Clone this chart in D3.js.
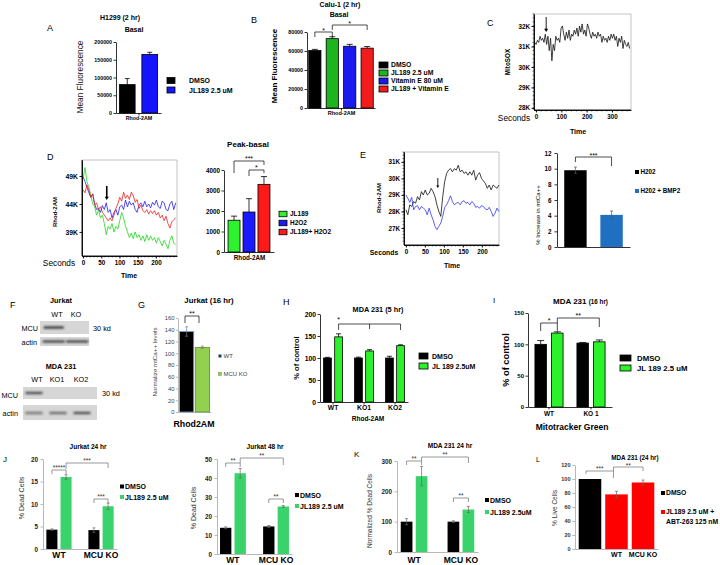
<!DOCTYPE html>
<html><head><meta charset="utf-8">
<script src="https://cdn.jsdelivr.net/npm/d3@7/dist/d3.min.js"></script>
<style>html,body{margin:0;padding:0;background:#fff}svg{display:block}</style>
</head><body>
<svg id="fig" width="720" height="565" viewBox="0 0 720 565"></svg>
<script>
// ================= DATA =================
// A
const aCategories = ["DMSO", "JL189 2.5 uM"];
const aMeans = [80000, 165000];
const aErrors = [17000, 6000];
const aTicks = [0, 50000, 100000, 150000, 200000];
// B
const bCategories = ["DMSO", "JL189 2.5 uM", "Vitamin E 80 uM", "JL189 + Vitamin E"];
const bMeans = [60500, 73000, 65000, 63000];
const bErrors = [1200, 2000, 2000, 1700];
const bTicks = [0, 20000, 40000, 60000, 80000];
// C (MitoSOX trace, thousands)
const cStart = -5, cStep = 5.2;
const cMitoSOX = [31.2,31.1,31.3,31.2,31.5,31.3,31.4,31.2,31.6,31.1,
  31.5,30.8,31.4,30.3,31.1,30.8,31.5,31.3,31.4,31.2,
  31.9,32.0,31.6,31.3,31.7,31.4,31.8,31.3,31.6,31.5,
  31.8,31.6,31.9,31.5,32.0,31.7,32.1,31.6,31.8,31.5,
  32.1,31.9,31.6,31.4,31.7,31.5,31.6,31.4,31.7,31.5,
  31.6,31.2,31.5,31.3,31.4,31.2,31.5,31.3,31.6,31.4,
  31.6,31.3,31.5,31.0,31.4,31.2,31.5,30.9,31.3,31.1,
  31.0,31.2,30.9];
const cYTicks = [28, 29, 30, 31, 32];
const cXTicks = [0, 100, 200, 300];
const cArrowTime = 40;
// D traces (thousands)
const dStep = 5.3;
const dJL189 = [48.5,50.5,48.0,47.0,45.5,44.0,43.5,42.0,43.0,41.5,42.0,40.5,38.5,40.0,39.5,40.5,39.0,40.0,39.5,41.0,
  42.5,41.5,40.0,39.0,38.0,38.8,37.8,39.0,38.0,38.5,37.5,38.3,37.3,38.5,37.5,38.3,37.5,38.0,37.0,38.0,
  37.3,36.5,37.5,36.8,36.0,37.5,38.3,37.0,36.7];
const dH2O2 = [48.8,48.0,47.0,46.0,45.2,45.8,44.0,43.0,43.2,42.5,43.7,43.0,44.2,42.5,43.0,41.5,42.5,43.0,42.0,43.5,
  43.8,43.0,44.7,43.5,44.5,43.8,44.2,43.0,42.5,43.8,44.2,43.5,44.5,43.5,44.0,43.3,44.3,43.8,44.7,43.5,
  43.2,44.5,44.2,43.0,42.8,44.0,44.5,43.0,44.2];
const dJL189H2O2 = [46.5,46.0,47.4,46.5,45.2,45.8,43.8,44.2,43.0,43.5,42.5,42.0,41.5,41.0,41.5,41.0,42.0,43.2,44.0,45.2,
  44.5,46.1,45.0,45.6,44.8,46.1,45.5,44.3,44.8,43.2,43.8,42.8,42.5,43.0,42.2,42.8,42.3,42.8,42.0,42.5,
  41.5,42.0,41.0,41.8,40.5,39.7,40.8,41.2,41.5];
const dYTicks = [39, 44, 49];
const dXTicks = [0, 50, 100, 150, 200];
const dArrowTime = 65;
const dBarCategories = ["JL189", "H2O2", "JL189+ H2O2"];
const dBarMeans = [1550, 1950, 3300];
const dBarErrors = [200, 650, 380];
const dBarTicks = [0, 1000, 2000, 3000, 4000];
// E traces (thousands)
const eStep = 5.1;
const eH2O2Trace = [28.1,27.8,28.4,28.3,28.6,28.5,28.9,28.7,29.2,29.0,29.3,29.0,29.1,29.4,29.2,28.9,28.4,28.0,27.7,28.9,
  29.8,30.3,30.5,30.6,30.4,30.6,30.5,30.8,30.4,30.5,30.3,30.4,30.2,30.4,30.2,30.5,29.9,30.2,30.35,30.0,
  29.85,29.7,29.4,29.6,29.3,29.6,29.5,29.4,29.6];
const eBMP2Trace = [29.0,28.8,28.55,28.85,28.1,28.3,28.35,28.1,28.3,28.2,28.1,27.8,28.2,27.8,27.5,27.1,26.9,27.1,27.3,27.7,
  28.25,28.4,28.65,28.95,28.6,28.4,28.5,28.55,28.4,28.6,28.65,28.5,28.55,28.4,28.6,28.5,28.25,28.3,28.2,28.35,
  28.3,28.15,28.1,28.25,28.0,27.7,27.9,28.2,28.0];
const eYTicks = [27, 28, 29, 30, 31];
const eXTicks = [0, 50, 100, 150, 200];
const eArrowTime = 84;
const eBarCategories = ["H202", "H202 + BMP2"];
const eBarMeans = [9.8, 4.1];
const eBarErrors = [0.4, 0.5];
const eBarTicks = [0, 2, 4, 6, 8, 10, 12];
// F (blot band intensities)
const fJurkatLanes = ["WT", "KO"];
const fJurkatMCU = [1, 0];
const fJurkatActin = [0.9, 0.9];
const fMDALanes = ["WT", "KO1", "KO2"];
const fMDAMCU = [0.85, 0, 0];
const fMDAActin = [0.55, 0.65, 0.8];
// G
const gCategories = ["WT", "MCU KO"];
const gMeans = [137, 110];
const gErrors = [8, 2];
const gTicks = [0, 20, 40, 60, 80, 100, 120, 140, 160];
// H
const hGroups = ["WT", "KO1", "KO2"];
const hSeries = ["DMSO", "JL 189 2.5uM"];
const hDMSO = [100, 100, 100];
const hDMSOErr = [1.5, 2, 4];
const hJL189 = [148, 116, 128];
const hJL189Err = [7, 3, 2];
const hTicks = [0, 50, 100, 150, 200];
// I
const iGroups = ["WT", "KO 1"];
const iSeries = ["DMSO", "JL 189 2.5 uM"];
const iDMSO = [100, 102];
const iDMSOErr = [6, 1];
const iJL189 = [118, 104];
const iJL189Err = [2, 3];
const iTicks = [0, 50, 100, 150];
// J (Jurkat 24 hr / 48 hr)
const jGroups = ["WT", "MCU KO"];
const jSeries = ["DMSO", "JL189  2.5 uM"];
const j24DMSO = [4.3, 4.2], j24DMSOErr = [0.15, 0.5];
const j24JL189 = [16.0, 9.5], j24JL189Err = [0.5, 0.7];
const j24Ticks = [0, 5, 10, 15, 20];
const j48DMSO = [13.8, 14.5], j48DMSOErr = [0.5, 0.5];
const j48JL189 = [42.5, 25.0], j48JL189Err = [2.5, 0.5];
const j48Ticks = [0, 10, 20, 30, 40, 50];
// K
const kGroups = ["WT", "MCU KO"];
const kSeries = ["DMSO", "JL189 2.5uM"];
const kDMSO = [100, 100], kDMSOErr = [10, 3];
const kJL189 = [250, 140], kJL189Err = [32, 10];
const kTicks = [0, 100, 200, 300];
// L
const lCategories = ["DMSO", "WT", "MCU KO"];
const lMeans = [100, 78, 95];
const lErrors = [0, 4.5, 3.5];
const lTicks = [0, 20, 40, 60, 80, 100, 120];

// ================= HELPERS =================
const FONT = '"Liberation Sans", Arial, Helvetica, sans-serif';
const svg = d3.select("#fig");
const defs = svg.append("defs");
defs.append("filter").attr("id", "blur").attr("x", "-30%").attr("y", "-100%").attr("width", "160%").attr("height", "300%")
  .append("feGaussianBlur").attr("stdDeviation", 0.8);

function T(x, y, s, o = {}) {
  const t = svg.append("text").attr("x", x).attr("y", y).text(s)
    .style("font-family", FONT).style("font-size", (o.size || 7) + "px")
    .style("font-weight", o.bold ? "bold" : "normal")
    .attr("text-anchor", o.anchor || "start").attr("fill", o.fill || "#000");
  if (o.rot) t.attr("transform", `rotate(-90,${x},${y})`);
  return t;
}
function R(cx, cy, s, o = {}) {
  const size = o.size || 7;
  return T(cx + 0.36 * size, cy, s, Object.assign({}, o, { anchor: "middle", rot: true }));
}
function styleAxis(g, o) {
  g.attr("font-size", null).attr("font-family", null);
  g.selectAll("text").style("font-family", FONT).style("font-size", (o.size || 6) + "px")
    .style("font-weight", o.bold === false ? "normal" : "bold").attr("fill", o.fill || "#000");
  g.selectAll("path.domain, .tick line").attr("stroke", o.stroke || "#000").attr("stroke-width", o.sw || 0.8);
}
function yAxis(scale, x, ticks, o = {}) {
  const ax = d3.axisLeft(scale).tickValues(ticks).tickSizeInner(o.ts ?? 2.5).tickSizeOuter(0).tickPadding(o.pad ?? 1.5);
  if (o.fmt) ax.tickFormat(o.fmt);
  const g = svg.append("g").attr("transform", `translate(${x},0)`).call(ax);
  styleAxis(g, o);
  return g;
}
function xAxis(scale, y, ticks, o = {}) {
  const ax = d3.axisBottom(scale).tickSizeInner(o.ts ?? 2.5).tickSizeOuter(0).tickPadding(o.pad ?? 1.5);
  if (ticks) ax.tickValues(ticks);
  if (o.fmt) ax.tickFormat(o.fmt);
  const g = svg.append("g").attr("transform", `translate(0,${y})`).call(ax);
  styleAxis(g, o);
  return g;
}
function minorTicks(scale, vals, orient, pos, len) {
  const g = svg.append("g").attr("stroke", "#000").attr("stroke-width", 0.5);
  vals.forEach(v => {
    if (orient === "x") g.append("line").attr("x1", scale(v)).attr("x2", scale(v)).attr("y1", pos).attr("y2", pos + len);
    else g.append("line").attr("y1", scale(v)).attr("y2", scale(v)).attr("x1", pos).attr("x2", pos - len);
  });
}
function errBar(cx, y, v, e, o) {
  if (!e) return;
  const cw = o.cap || 2.5;
  const top = y(v + e), bot = o.both ? y(v - e) : y(v);
  let p = `M${cx},${bot}V${top}M${cx - cw},${top}H${cx + cw}`;
  if (o.both) p += `M${cx - cw},${bot}H${cx + cw}`;
  svg.append("path").attr("d", p).attr("stroke", o.ecol || "#000").attr("stroke-width", o.esw || 0.8).attr("fill", "none");
}
function simpleBars(x, y, cats, vals, errs, colors, o = {}) {
  svg.append("g").selectAll("rect").data(vals).join("rect")
    .attr("x", (d, i) => x(cats[i])).attr("y", d => y(d))
    .attr("width", x.bandwidth()).attr("height", d => y(0) - y(d))
    .attr("fill", (d, i) => colors[i])
    .attr("stroke", (d, i) => o.strokes ? o.strokes[i] : (o.stroke || "none")).attr("stroke-width", o.sw || 0.8);
  vals.forEach((v, i) => errBar(x(cats[i]) + x.bandwidth() / 2, y, v, errs[i], o));
}
function groupedBars(xo, y, groups, series, errs, colors, o = {}) {
  const xi = d3.scaleBand().domain(d3.range(series.length)).range([0, xo.bandwidth()]).paddingInner(o.inner ?? 0.3);
  series.forEach((vals, s) => {
    svg.append("g").selectAll("rect").data(vals).join("rect")
      .attr("x", (d, i) => xo(groups[i]) + xi(s)).attr("y", d => y(d))
      .attr("width", xi.bandwidth()).attr("height", d => y(0) - y(d))
      .attr("fill", colors[s]).attr("stroke", o.stroke || "none").attr("stroke-width", o.sw || 0.8);
  });
  series.forEach((vals, s) => vals.forEach((v, i) => errBar(xo(groups[i]) + xi(s) + xi.bandwidth() / 2, y, v, errs[s][i], o)));
  return (g, s) => xo(g) + xi(s) + xi.bandwidth() / 2;
}
function bracket(x1, x2, yt, y1, y2, label, o = {}) {
  svg.append("path").attr("d", `M${x1},${y1}V${yt}H${x2}V${y2}`).attr("fill", "none")
    .attr("stroke", o.stroke || "#000").attr("stroke-width", o.sw || 0.7);
  T(o.lx ?? (x1 + x2) / 2, yt + (o.ly ?? 1.5), label, { size: o.size || 7, anchor: "middle", fill: o.fill || "#000" });
}
function legend(x, ys, labels, colors, o = {}) {
  labels.forEach((l, i) => {
    svg.append("rect").attr("x", x).attr("y", ys[i] - o.h / 2).attr("width", o.w).attr("height", o.h)
      .attr("fill", colors[i]).attr("stroke", o.strokes ? o.strokes[i] : (o.stroke || "none")).attr("stroke-width", o.sw || 0.8);
    T(o.tx, ys[i] + 0.36 * o.size, l, { size: o.size, bold: o.bold, fill: o.fill || "#000" });
  });
}
function frame(x0, x1, y0, y1) {
  svg.append("path").attr("d", `M${x0},${y0}H${x1}V${y1}`).attr("fill", "none").attr("stroke", "#9a9a9a").attr("stroke-width", 0.6);
}
function trace(vals, t0, step, x, y, color, sw) {
  svg.append("path").datum(vals)
    .attr("d", d3.line().x((d, i) => x(t0 + i * step)).y(d => y(d)))
    .attr("fill", "none").attr("stroke", color).attr("stroke-width", sw).attr("stroke-linejoin", "round");
}
function arrow(x, y0, y1, sw, hw) {
  svg.append("path").attr("d", `M${x},${y0}V${y1 - hw * 1.2}`).attr("stroke", "#000").attr("stroke-width", sw);
  svg.append("path").attr("d", `M${x - hw},${y1 - hw * 1.6}L${x},${y1}L${x + hw},${y1 - hw * 1.6}Z`).attr("fill", "#000");
}

// ================= PANEL A =================
{
  const y = d3.scaleLinear().domain([0, 200000]).range([113, 42]);
  const x = d3.scaleBand().domain(aCategories).range([116, 161]).paddingInner(0.3).paddingOuter(0.15);
  const colors = ["#000000", "#1414ff"];
  simpleBars(x, y, aCategories, aMeans, aErrors, colors, { stroke: "#000", cap: 2.5 });
  yAxis(y, 116, aTicks, { size: 5.3, fmt: d3.format("d") });
  xAxis(d3.scalePoint().domain(["Rhod-2AM"]).range([116, 161]).padding(0.5), 113, null, { size: 5.3, pad: 0.5 });
  T(47, 31, "A", { size: 9 });
  T(120, 20, "H1299 (2 hr)", { size: 7, bold: true, anchor: "middle" });
  T(134, 32, "Basal", { size: 7, bold: true, anchor: "middle" });
  R(80, 77, "Mean Fluorescence", { size: 8.3, fill: "#111" });
  legend(167, [80.5, 90], aCategories, colors, { w: 8, h: 6, tx: 189, size: 7, bold: true, stroke: "#000" });
}
// ================= PANEL B =================
{
  const y = d3.scaleLinear().domain([0, 80000]).range([108, 32]);
  const x = d3.scaleBand().domain(bCategories).range([307, 375]).paddingInner(0.3).paddingOuter(0.1);
  const colors = ["#000000", "#1db51d", "#1a1aee", "#f21c1c"];
  simpleBars(x, y, bCategories, bMeans, bErrors, colors, { stroke: "#000", cap: 3 });
  yAxis(y, 307, bTicks, { size: 5.3, fmt: d3.format("d") });
  xAxis(d3.scalePoint().domain(["Rhod-2AM"]).range([307, 375]).padding(0.5), 108, null, { size: 5.5, pad: 0.5 });
  const c = i => x(bCategories[i]) + x.bandwidth() / 2;
  bracket(c(0), c(1), 32, 37, 37, "*", { size: 7, ly: 0.5 });
  bracket(c(1), c(3), 25, 30, 30, "*", { size: 7, ly: 0.5 });
  T(251, 23, "B", { size: 9 });
  T(340, 7, "Calu-1 (2 hr)", { size: 7, bold: true, anchor: "middle" });
  T(339, 16.5, "Basal", { size: 7, bold: true, anchor: "middle" });
  R(274, 66, "Mean Fluorescence", { size: 8, bold: true });
  legend(379, [65, 73, 81, 89], bCategories, colors, { w: 9, h: 6, tx: 391, size: 6.8, bold: true, stroke: "#000" });
}
// ================= PANEL C =================
{
  const x = d3.scaleLinear().domain([-8, 375]).range([534, 631]);
  const y = d3.scaleLinear().domain([27.9, 32.585]).range([110, 14]);
  frame(534, 631, 14, 110);
  trace(cMitoSOX, cStart, cStep, x, y, "#111", 0.8);
  yAxis(y, 534, cYTicks, { size: 6.3, fmt: d => d + "K", sw: 0.9 });
  minorTicks(y, d3.range(28, 32.6, 0.2), "y", 534, 1.5);
  xAxis(x, 110, cXTicks, { size: 6.3, pad: 2.5, sw: 0.9 });
  minorTicks(x, d3.range(0, 375, 20), "x", 110, 1.5);
  svg.append("path").attr("d", "M534,14V110H631").attr("fill", "none").attr("stroke", "#000").attr("stroke-width", 0.9);
  arrow(x(cArrowTime), 17, 32, 0.9, 2);
  T(487, 26, "C", { size: 9 });
  R(508, 62, "MitoSOX", { size: 6.3, bold: true });
  T(514, 120.5, "Seconds", { size: 8.3, anchor: "middle" });
  T(578, 133.5, "Time", { size: 7, bold: true, anchor: "middle" });
}
// ================= PANEL D (traces) =================
{
  const x = d3.scaleLinear().domain([-3, 258]).range([82, 177]);
  const y = d3.scaleLinear().domain([34.7, 51.86]).range([256, 160]);
  frame(82, 177, 160, 256);
  trace(dJL189, 0, dStep, x, y, "#1ed81e", 0.8);
  trace(dH2O2, 0, dStep, x, y, "#2020ee", 0.8);
  trace(dJL189H2O2, 0, dStep, x, y, "#ee2020", 0.8);
  yAxis(y, 82, dYTicks, { size: 6.8, fmt: d => d + "K", sw: 0.9 });
  xAxis(x, 256, dXTicks, { size: 6.3, pad: 2, sw: 0.9 });
  minorTicks(x, d3.range(0, 258, 10), "x", 256, 1.5);
  svg.append("path").attr("d", "M82,160V256H177").attr("fill", "none").attr("stroke", "#000").attr("stroke-width", 0.9);
  arrow(x(dArrowTime), 186, 200, 1.6, 2);
  T(47, 160, "D", { size: 9 });
  R(55, 212, "Rhod-2AM", { size: 6, bold: true });
  T(59, 265.5, "Seconds", { size: 8.3, anchor: "middle" });
  T(129, 278, "Time", { size: 7, bold: true, anchor: "middle" });
}
// ================= PANEL D (bars) =================
{
  const y = d3.scaleLinear().domain([0, 4000]).range([252, 170]);
  const x = d3.scaleBand().domain(dBarCategories).range([224, 274]).paddingInner(0.2).paddingOuter(0.27);
  const colors = ["#2ef22e", "#1a1aff", "#ff1a1a"];
  simpleBars(x, y, dBarCategories, dBarMeans, dBarErrors, colors, { stroke: "#000", cap: 3 });
  yAxis(y, 224, dBarTicks, { size: 6.3, fmt: d3.format("d") });
  xAxis(d3.scalePoint().domain(["Rhod-2AM"]).range([224, 274]).padding(0.5), 252, null, { size: 6.3, pad: 1.5 });
  const c = i => x(dBarCategories[i]) + x.bandwidth() / 2;
  bracket(c(0), c(2), 161, 173, 165, "***", { size: 7, ly: 0 });
  bracket(c(1), c(2), 170, 176, 173, "*", { size: 7, ly: 0 });
  T(248, 147, "Peak-basal", { size: 8, bold: true, anchor: "middle" });
  legend(279, [214, 223, 232], dBarCategories, colors, { w: 8, h: 5.5, tx: 290, size: 6.5, bold: true, stroke: "#000" });
}
// ================= PANEL E (traces) =================
{
  const x = d3.scaleLinear().domain([-5, 245]).range([404, 499]);
  const y = d3.scaleLinear().domain([25.97, 31.6]).range([245, 152]);
  frame(404, 499, 152, 245);
  trace(eH2O2Trace, 0, eStep, x, y, "#111", 0.8);
  trace(eBMP2Trace, 0, eStep, x, y, "#3535ee", 0.8);
  yAxis(y, 404, eYTicks, { size: 6.3, fmt: d => d + "K", sw: 0.9 });
  minorTicks(y, d3.range(26.2, 31.6, 0.2), "y", 404, 1.5);
  xAxis(x, 245, eXTicks, { size: 6.3, pad: 2.5, sw: 0.9 });
  minorTicks(x, d3.range(0, 245, 10), "x", 245, 1.5);
  svg.append("path").attr("d", "M404,152V245H499").attr("fill", "none").attr("stroke", "#000").attr("stroke-width", 0.9);
  arrow(x(eArrowTime), 178, 188, 0.9, 1.5);
  T(360, 158, "E", { size: 9 });
  R(379, 198, "Rhod-2AM", { size: 6, bold: true });
  T(384, 255, "Seconds", { size: 6.8, bold: true, anchor: "middle" });
  T(452, 268, "Time", { size: 7, bold: true, anchor: "middle" });
}
// ================= PANEL E (bars) =================
{
  const y = d3.scaleLinear().domain([0, 12]).range([247, 153]);
  const x = d3.scaleBand().domain(eBarCategories).range([557, 630]).paddingInner(0.38).paddingOuter(0.2);
  const colors = ["#000000", "#1f70c2"];
  simpleBars(x, y, eBarCategories, eBarMeans, eBarErrors, colors, { both: true, cap: 1.5, ecol: "#555", esw: 0.7 });
  yAxis(y, 557, eBarTicks, { size: 6.3, fmt: d3.format("d"), ts: 2.5, pad: 3, sw: 0.8 });
  xAxis(x, 247, null, { ts: 0, fmt: () => "", sw: 0.8 });
  const c = i => x(eBarCategories[i]) + x.bandwidth() / 2;
  bracket(c(0), c(1), 157, 162, 166, "***", { size: 7, ly: 0.5 });
  R(538, 215, "% Increase  in mtCa++", { size: 6 });
  legend(635, [172, 191], eBarCategories, colors, { w: 4, h: 4, tx: 640.5, size: 6.3, bold: true });
}
// ================= PANEL F (blots) =================
{
  function blot(lanes, vals, x0, x1, y0, y1, bandY, bandH, bw) {
    svg.append("rect").attr("x", x0).attr("y", y0).attr("width", x1 - x0).attr("height", y1 - y0).attr("fill", "#d6d6d6");
    const x = d3.scaleBand().domain(lanes).range(bw.range);
    svg.append("g").attr("filter", "url(#blur)").selectAll("rect").data(vals).join("rect")
      .attr("x", (d, i) => x(lanes[i]) + (x.bandwidth() - bw.w) / 2).attr("y", bandY - bandH / 2)
      .attr("width", bw.w).attr("height", bandH).attr("fill", "#2a2a2a").attr("opacity", d => d);
  }
  blot(fJurkatLanes, fJurkatMCU, 40, 89, 321, 334, 327.5, 2.2, { range: [42, 89], w: 20 });
  blot(fJurkatLanes, fJurkatActin, 40, 89, 337, 346, 341.5, 2.2, { range: [42, 89], w: 22 });
  blot(fMDALanes, fMDAMCU, 23, 97, 387, 399, 393, 2.2, { range: [22, 94], w: 17 });
  blot(fMDALanes, fMDAActin, 23, 97, 405, 420, 413, 2.4, { range: [22, 94], w: 17 });
  T(10, 308, "F", { size: 9 });
  T(61, 303, "Jurkat", { size: 7.3, bold: true, anchor: "middle" });
  T(57, 317, "WT", { size: 7.3, anchor: "middle" });
  T(76, 317, "KO", { size: 7.3, anchor: "middle" });
  T(38, 331, "MCU", { size: 7.3, anchor: "end" });
  T(37, 344.5, "actin", { size: 7.3, anchor: "end" });
  T(93, 331, "30 kd", { size: 7.3 });
  T(61, 369, "MDA 231", { size: 7.3, bold: true, anchor: "middle" });
  T(37, 382, "WT", { size: 7.3, anchor: "middle" });
  T(57, 382, "KO1", { size: 7.3, anchor: "middle" });
  T(81, 382, "KO2", { size: 7.3, anchor: "middle" });
  T(18, 398, "MCU", { size: 7.3, anchor: "end" });
  T(18, 416, "actin", { size: 7.3, anchor: "end" });
  T(102, 396, "30 kd", { size: 7.3 });
}
// ================= PANEL G =================
{
  const y = d3.scaleLinear().domain([0, 160]).range([412, 318]);
  const x = d3.scaleBand().domain(gCategories).range([178, 211]).paddingInner(0.1).paddingOuter(0.1);
  const colors = ["#000000", "#92d050"];
  const strokes = ["#6fa8dc", "#5e8f2e"];
  simpleBars(x, y, gCategories, gMeans, gErrors, colors, { strokes, sw: 0.8, both: true, cap: 1.5, ecol: "#777", esw: 0.7 });
  yAxis(y, 178, gTicks, { size: 5.8, bold: false, fill: "#444", stroke: "#888", sw: 0.6, ts: 2, pad: 1.5 });
  xAxis(x, 412, null, { ts: 0, fmt: () => "", stroke: "#888", sw: 0.6 });
  bracket(185, 199, 316, 323, 323, "**", { size: 7, ly: 0 });
  T(138, 308, "G", { size: 9 });
  T(209, 303, "Jurkat (16 hr)", { size: 7.8, bold: true, anchor: "middle" });
  T(194, 427, "Rhod2AM", { size: 8.8, bold: true, anchor: "middle" });
  R(155, 362, "Normalize mtCa++ levels", { size: 6.2, fill: "#444" });
  legend(218.5, [356, 374], gCategories, ["#1f3864", "#92d050"], { w: 3, h: 3, tx: 223.5, size: 6, fill: "#444", strokes: ["none", "#5e8f2e"], sw: 0.5 });
}
// ================= PANEL H =================
{
  const y = d3.scaleLinear().domain([0, 200]).range([402, 314]);
  const x = d3.scaleBand().domain(hGroups).range([320, 408]).paddingInner(0.39).paddingOuter(0.115);
  const colors = ["#000000", "#2cf22c"];
  const cx = groupedBars(x, y, hGroups, [hDMSO, hJL189], [hDMSOErr, hJL189Err], colors, { stroke: "#000", inner: 0.3, cap: 2.5 });
  yAxis(y, 320, hTicks, { size: 6.8, fmt: d3.format("d") });
  xAxis(x, 402, null, { size: 6.8, pad: 0.5 });
  svg.append("path").attr("d", `M${cx("WT", 1)},330V324H${cx("KO2", 1)}V330M${cx("KO1", 1)},324V329`)
    .attr("fill", "none").attr("stroke", "#000").attr("stroke-width", 0.7);
  T(cx("WT", 1), 322, "*", { size: 7, anchor: "middle" });
  T(283, 305, "H", { size: 9 });
  T(378, 312, "MDA 231 (5 hr)", { size: 7.3, bold: true, anchor: "middle" });
  T(368, 421, "Rhod-2AM", { size: 6.5, bold: true, anchor: "middle" });
  R(296, 358, "% of control", { size: 7.5, bold: true });
  legend(419, [356, 366], hSeries, colors, { w: 9, h: 6, tx: 432, size: 7, bold: true, stroke: "#000" });
}
// ================= PANEL I =================
{
  const y = d3.scaleLinear().domain([0, 150]).range([407, 313]);
  const x = d3.scaleBand().domain(iGroups).range([528, 612]).paddingInner(0.33).paddingOuter(0.165);
  const colors = ["#000000", "#2cf22c"];
  const cx = groupedBars(x, y, iGroups, [iDMSO, iJL189], [iDMSOErr, iJL189Err], colors, { stroke: "#000", inner: 0.31, cap: 3.5 });
  yAxis(y, 528, iTicks, { size: 6, fmt: d3.format("d") });
  xAxis(x, 407, null, { size: 6.5, pad: 2 });
  bracket(cx("WT", 0), cx("WT", 1), 323, 331, 331, "*", { size: 7, ly: 0 });
  bracket(cx("WT", 1), cx("KO 1", 1), 318, 323, 327, "**", { size: 7, ly: -0.5 });
  T(493, 303, "I", { size: 8 });
  const t = T(553, 304, "MDA 231 ", { size: 8, bold: true });
  t.append("tspan").text("(16 hr)").style("font-size", "6.3px");
  T(572, 430, "Mitotracker Green", { size: 8.5, bold: true, anchor: "middle" });
  R(506, 360, "% of control", { size: 9.3, bold: true });
  legend(620, [358, 368], iSeries, colors, { w: 11, h: 6, tx: 637, size: 7.8, bold: true, stroke: "#000" });
}
// ================= PANEL J =================
const jGreen = "#3ad36b";
function excelDead(cfg) {
  const y = d3.scaleLinear().domain(cfg.dom).range([cfg.y0, cfg.y1]);
  const x = d3.scaleBand().domain(jGroups).range([cfg.x0, cfg.x1]).paddingInner(0.4).paddingOuter(cfg.po);
  const cx = groupedBars(x, y, jGroups, cfg.series, cfg.errs, ["#000000", cfg.green], { inner: 0.22, both: true, cap: 1.5, ecol: "#666", esw: 0.7 });
  yAxis(y, cfg.x0, cfg.ticks, { size: 6.3, fmt: d3.format("d"), stroke: "#888", sw: 0.6, ts: 2.5, pad: 2.5, fill: "#222" });
  xAxis(x, cfg.y0, null, { ts: 0, pad: cfg.lpad, size: 8.5, stroke: "#888", sw: 0.6 });
  return cx;
}
{
  const cx = excelDead({ dom: [0, 20], y0: 549, y1: 459, x0: 43, x1: 117, po: 0.08, ticks: j24Ticks,
    series: [j24DMSO, j24JL189], errs: [j24DMSOErr, j24JL189Err], green: jGreen, lpad: 3 });
  const bs = { stroke: "#555", sw: 0.6, size: 6.5, fill: "#333" };
  bracket(cx("WT", 0), cx("WT", 1), 470, 474, 474, "*****", Object.assign({ ly: 0 }, bs));
  bracket(cx("WT", 1), cx("MCU KO", 1), 463, 469, 468, "***", Object.assign({ ly: 0 }, bs));
  bracket(cx("MCU KO", 0), cx("MCU KO", 1), 499, 503, 503, "***", Object.assign({ ly: 0 }, bs));
  T(3, 462, "J", { size: 8 });
  T(88, 448.5, "Jurkat 24 hr", { size: 6.5, bold: true, anchor: "middle" });
  R(21, 498, "% Dead Cells", { size: 7, fill: "#333" });
  legend(120, [486.5, 497], jSeries, ["#000000", jGreen], { w: 4, h: 4, tx: 125, size: 7, bold: true });
}
{
  const cx = excelDead({ dom: [0, 50], y0: 554, y1: 459, x0: 217, x1: 292, po: 0.07, ticks: j48Ticks,
    series: [j48DMSO, j48JL189], errs: [j48DMSOErr, j48JL189Err], green: jGreen, lpad: 3 });
  const bs = { stroke: "#555", sw: 0.6, size: 6.5, fill: "#333" };
  bracket(cx("WT", 0), cx("WT", 1), 463, 467, 467, "**", Object.assign({ ly: 0 }, bs));
  bracket(cx("WT", 1), cx("MCU KO", 1), 458, 463, 465, "**", Object.assign({ ly: 0 }, bs));
  bracket(cx("MCU KO", 0), cx("MCU KO", 1), 499, 503, 503, "**", Object.assign({ ly: 0 }, bs));
  T(265, 448.5, "Jurkat 48 hr", { size: 6.5, bold: true, anchor: "middle" });
  R(193, 508, "% Dead Cells", { size: 7, fill: "#333" });
  legend(295, [495, 506], jSeries, ["#000000", jGreen], { w: 4, h: 4, tx: 300, size: 7, bold: true });
}
// ================= PANEL K =================
{
  const y = d3.scaleLinear().domain([0, 300]).range([552, 461]);
  const x = d3.scaleBand().domain(kGroups).range([397, 478]).paddingInner(0.43).paddingOuter(0.08);
  const cx = groupedBars(x, y, kGroups, [kDMSO, kJL189], [kDMSOErr, kJL189Err], ["#000000", jGreen], { inner: 0.22, both: true, cap: 1.5, ecol: "#666", esw: 0.7 });
  yAxis(y, 397, kTicks, { size: 6.3, fmt: d3.format("d"), stroke: "#888", sw: 0.6, ts: 2.5, pad: 2.5, fill: "#222" });
  xAxis(x, 552, null, { ts: 0, pad: 4.5, size: 8.5, stroke: "#888", sw: 0.6 });
  const bs = { stroke: "#555", sw: 0.6, size: 6.5, fill: "#333" };
  bracket(cx("WT", 0), cx("WT", 1), 461, 465, 465, "**", Object.assign({ ly: 0 }, bs));
  bracket(cx("WT", 1), cx("MCU KO", 1), 457, 461, 463, "**", Object.assign({ ly: 0 }, bs));
  bracket(cx("MCU KO", 0), cx("MCU KO", 1), 498, 502, 502, "**", Object.assign({ ly: 0 }, bs));
  T(354, 457, "K", { size: 8 });
  T(450, 448, "MDA 231 24 hr", { size: 6.5, bold: true, anchor: "middle" });
  R(370, 511, "Normalized % Dead Cells", { size: 6.5, fill: "#333" });
  legend(485, [500, 512], kSeries, ["#000000", jGreen], { w: 4, h: 4, tx: 490, size: 7, bold: true });
}
// ================= PANEL L =================
{
  const y = d3.scaleLinear().domain([0, 120]).range([549, 465]);
  const x = d3.scaleBand().domain(lCategories).range([575, 658]).paddingInner(0.15).paddingOuter(0.14);
  const colors = ["#000000", "#ff0000", "#ff0000"];
  simpleBars(x, y, lCategories, lMeans, lErrors, colors, { both: true, cap: 1.5, ecol: "#666", esw: 0.7 });
  yAxis(y, 575, lTicks, { size: 5.5, fmt: d3.format("d"), stroke: "#888", sw: 0.6, ts: 2.5, pad: 2, fill: "#333" });
  xAxis(x, 549, null, { ts: 0, pad: 3, size: 7, stroke: "#888", sw: 0.6, fmt: d => d === "DMSO" ? "" : d });
  const c = i => x(lCategories[i]) + x.bandwidth() / 2;
  const bs = { stroke: "#555", sw: 0.6, size: 6.5, fill: "#333" };
  bracket(c(0) - 4, c(1) - 3, 471, 474, 478, "***", Object.assign({ ly: 0 }, bs));
  bracket(c(1) - 3, c(2), 467, 471, 471, "**", Object.assign({ ly: 0.5 }, bs));
  T(536, 462, "L", { size: 7 });
  T(635, 459.5, "MDA 231  (24 hr)", { size: 6.3, bold: true, anchor: "middle" });
  R(555, 508, "% Live Cells", { size: 6.5, fill: "#333" });
  legend(661, [493, 512], ["DMSO", "JL189 2.5 uM +"], ["#000000", "#ff0000"], { w: 4, h: 4, tx: 666, size: 6.8, bold: true });
  T(666, 523.5, "ABT-263 125 nM", { size: 6.8, bold: true });
}
</script>
</body></html>
